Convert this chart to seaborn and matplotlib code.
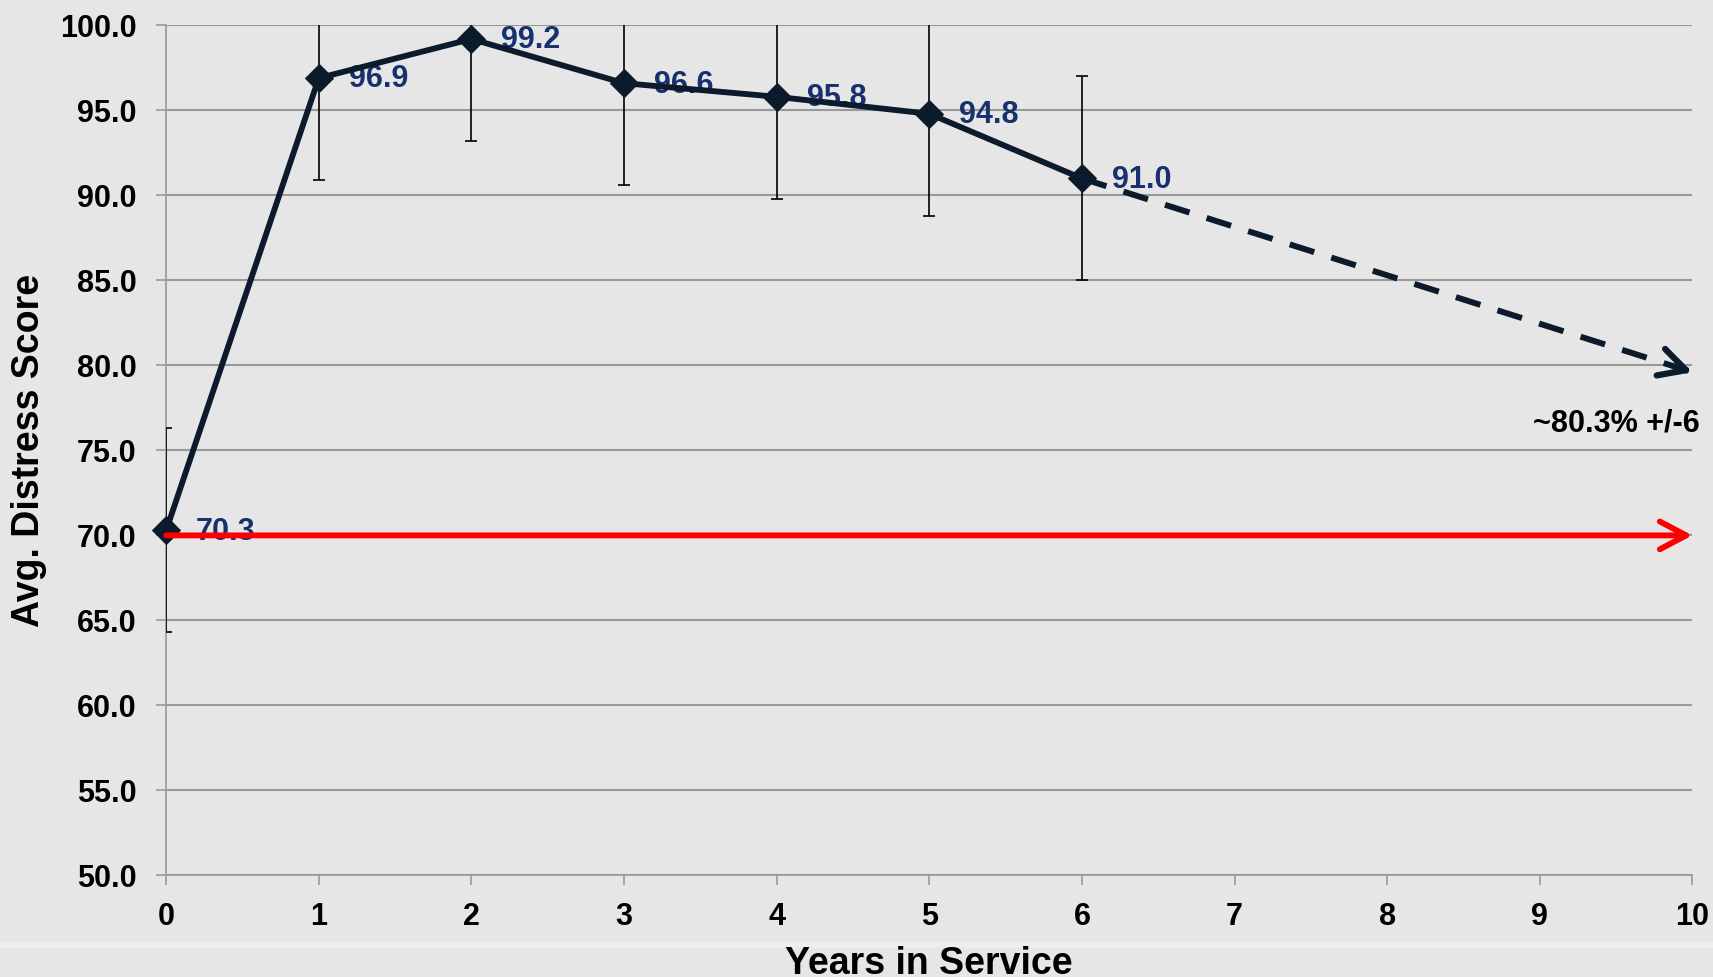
import numpy as np
import pandas as pd
import matplotlib.pyplot as plt
import seaborn as sns

# data
years = [0, 1, 2, 3, 4, 5, 6]
scores = [70.3, 96.9, 99.2, 96.6, 95.8, 94.8, 91.0]
errs = [6, 6, 6, 6, 6, 6, 6]

# projection (dashed arrow) and baseline (red arrow)
proj_x = [6, 10]
proj_y = [91.0, 79.6]
base_x = [0, 10]
base_y = [70.0, 70.0]
proj_label = '~80.3% +/-6'

x_ticks = list(range(0, 11))
y_ticks = list(range(50, 101, 5))

navy = '#0c1b2c'
label_blue = '#17306e'
grid_gray = '#999999'
bg = '#e6e6e6'

df = pd.DataFrame({'year': years, 'score': scores})

sns.set_style('white', {'axes.facecolor': bg, 'figure.facecolor': bg,
                        'axes.labelcolor': 'black', 'text.color': 'black'})
plt.rcParams['font.family'] = ['Liberation Sans', 'DejaVu Sans']
plt.rcParams['font.weight'] = 'bold'
plt.rcParams['axes.labelweight'] = 'bold'

fig, ax = plt.subplots(figsize=(17.13, 9.77), dpi=100)
fig.subplots_adjust(left=0.097, right=0.988, top=0.974, bottom=0.104)

# faint lighter band near the bottom of the slide
fig.add_artist(plt.Line2D([0, 1], [0.033, 0.033], transform=fig.transFigure,
                          color='#eeeeee', lw=4, zorder=0))

#error bars (clipped by the axes like the original)
ax.errorbar(years, scores, yerr=errs, fmt='none', ecolor='black',
            elinewidth=1.2, capsize=4.3, capthick=1.2, zorder=3)

# main line
sns.lineplot(data=df, x='year', y='score', color=navy, lw=4.2, marker='D',
             markersize=14, markeredgecolor=navy, ax=ax, zorder=4, clip_on=False)

# dashed projection + solid head
ax.plot(proj_x, proj_y, color=navy, lw=4.3, ls=(0, (4.3, 3.0)), zorder=3,
        clip_on=False, solid_capstyle='butt')
t = 0.97
tail = (proj_x[0] + t * (proj_x[1] - proj_x[0]), proj_y[0] + t * (proj_y[1] - proj_y[0]))
ax.annotate('', xy=(proj_x[1], proj_y[1]), xytext=tail,
            arrowprops=dict(arrowstyle='->,head_length=0.95,head_width=0.5',
                            color=navy, lw=4.5, shrinkA=0, shrinkB=0,
                            mutation_scale=20), zorder=4)

# red baseline arrow
ax.annotate('', xy=(base_x[1], base_y[1]), xytext=(base_x[0], base_y[0]),
            arrowprops=dict(arrowstyle='->,head_length=0.95,head_width=0.5',
                            color='#ff0000', lw=4.2, shrinkA=0, shrinkB=0,
                            mutation_scale=20), zorder=6)

# value labels
for x, y in zip(years, scores):
    ax.annotate(f'{y:.1f}', (x, y), xytext=(21.5, -1), textcoords='offset points',
                ha='left', va='center', color=label_blue, fontsize=22,
                fontweight='bold', zorder=3.5)

ax.text(proj_x[1] + 0.05, 76.6, proj_label, ha='right', va='center',
        fontsize=22, fontweight='bold', color='black')

ax.set_xlim(0, 10)
ax.set_ylim(50, 100)
ax.set_xticks(x_ticks)
ax.set_yticks(y_ticks)
ax.set_yticklabels([f'{v:.1f}' for v in y_ticks])
ax.tick_params(axis='both', length=7.2, width=1.2, color=grid_gray,
               labelsize=22, labelcolor='black')
ax.tick_params(axis='x', pad=12, bottom=True)
ax.tick_params(axis='y', pad=14, left=True)

ax.grid(axis='y', color=grid_gray, lw=1.5, zorder=0)
ax.grid(axis='x', visible=False)
ax.set_axisbelow(True)
for s in ['top', 'right']:
    ax.spines[s].set_visible(False)
for s in ['left', 'bottom']:
    ax.spines[s].set_color(grid_gray)
    ax.spines[s].set_linewidth(1.2)

ax.set_xlabel('Years in Service', fontsize=27, fontweight='bold', color='black')
ax.set_ylabel('Avg. Distress Score', fontsize=27, fontweight='bold', color='black')
ax.xaxis.set_label_coords(0.5, -0.083)
ax.yaxis.set_label_coords(-0.078, 0.5)

fig.savefig('out.png', dpi=100, facecolor=bg)
